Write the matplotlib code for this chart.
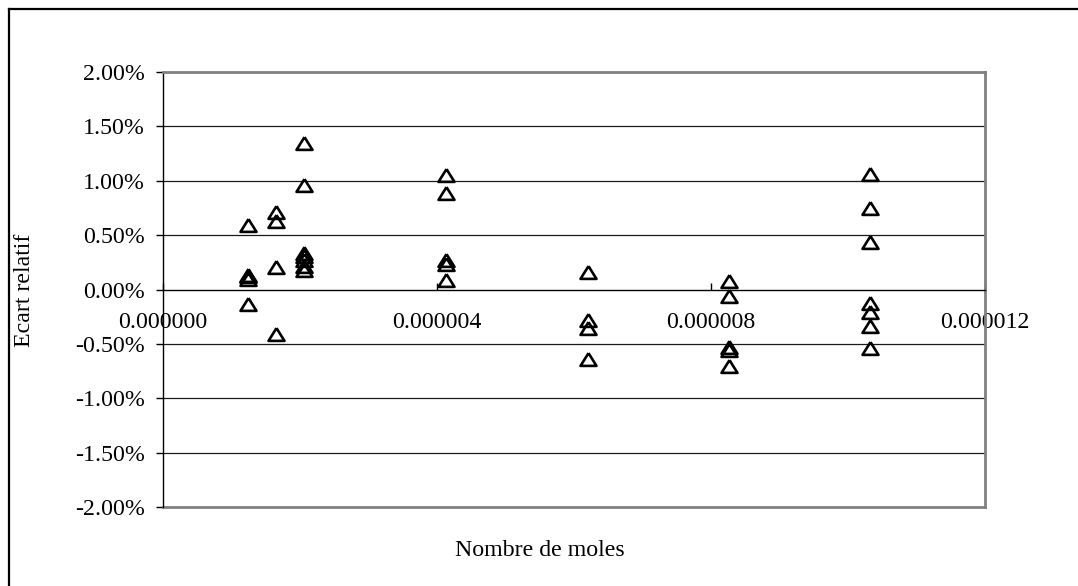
import matplotlib
matplotlib.use("Agg")
import matplotlib.pyplot as plt
from matplotlib.lines import Line2D
from matplotlib.ticker import FuncFormatter

plt.rcParams['font.family'] = ['Liberation Serif', 'DejaVu Serif']

# data (moles, relative deviation in %)
moles = [1.24e-6] * 5 + [1.65e-6] * 4 + [2.06e-6] * 7 + [4.13e-6] * 5 + \
        [6.20e-6] * 4 + [8.26e-6] * 5 + [10.32e-6] * 7
ecart = [0.59, 0.13, 0.10, 0.12, -0.13,
         0.71, 0.63, 0.21, -0.41,
         1.35, 0.96, 0.34, 0.31, 0.27, 0.22, 0.18,
         1.05, 0.89, 0.27, 0.23, 0.09,
         0.16, -0.28, -0.35, -0.64,
         0.08, -0.06, -0.53, -0.56, -0.70,
         1.06, 0.75, 0.44, -0.12, -0.21, -0.34, -0.54]
xticks = [0, 4e-6, 8e-6, 12e-6]
yticks = [-2.0, -1.5, -1.0, -0.5, 0.0, 0.5, 1.0, 1.5, 2.0]

W, H = 1078, 586
fig = plt.figure(figsize=(W / 100, H / 100), dpi=100)
ax = fig.add_axes([163 / W, 1 - 507 / H, (985 - 163) / W, (507 - 72) / H])

tri = [(0, 0.8), (-1, -0.8), (1, -0.8), (0, 0.8)]
ax.plot(moles, ecart, linestyle='none', marker=tri, markersize=11.5,
        markerfacecolor='none', markeredgecolor='black', markeredgewidth=1.9,
        clip_on=False, zorder=5)

ax.set_xlim(0, 12e-6)
ax.set_ylim(-2.0, 2.0)
ax.set_xticks(xticks)
ax.set_yticks(yticks)
ax.xaxis.set_major_formatter(FuncFormatter(lambda v, p: f"{v:.6f}"))
ax.yaxis.set_major_formatter(FuncFormatter(lambda v, p: f"{v:.2f}%"))

for y in yticks[1:-1]:
    if y != 0:
        ax.axhline(y, color='#1a1a1a', linewidth=0.9, zorder=1)

ax.spines['bottom'].set_position(('data', 0))
ax.spines['bottom'].set_color('black')
ax.spines['bottom'].set_linewidth(1.0)
ax.spines['left'].set_color('black')
ax.spines['left'].set_linewidth(1.0)
for s in ['top', 'right']:
    ax.spines[s].set_color('#808080')
    ax.spines[s].set_linewidth(2.0)
# bottom border of plot area
ax.plot([0, 1], [0, 0], transform=ax.transAxes, color='#808080', linewidth=2.0, clip_on=False)

FS = 17.2
ax.tick_params(axis='x', direction='in', length=5, width=1, pad=16, labelsize=FS, colors='black')
ax.tick_params(axis='y', direction='out', length=5, width=1, pad=8, labelsize=FS, colors='black')

fig.text(25 / W, 1 - 290 / H, 'Ecart relatif', rotation=90, ha='center', va='center', fontsize=FS)
fig.text(540 / W, 1 - 550 / H, 'Nombre de moles', ha='center', va='center', fontsize=FS)

# outer chart frame (left and top edges visible)
fig.add_artist(Line2D([8.5 / W, 8.5 / W], [0, 1 - 8.5 / H], transform=fig.transFigure, color='black', linewidth=1.6))
fig.add_artist(Line2D([8.5 / W, 1], [1 - 8.5 / H, 1 - 8.5 / H], transform=fig.transFigure, color='black', linewidth=1.6))

fig.savefig('out.png', dpi=100)
